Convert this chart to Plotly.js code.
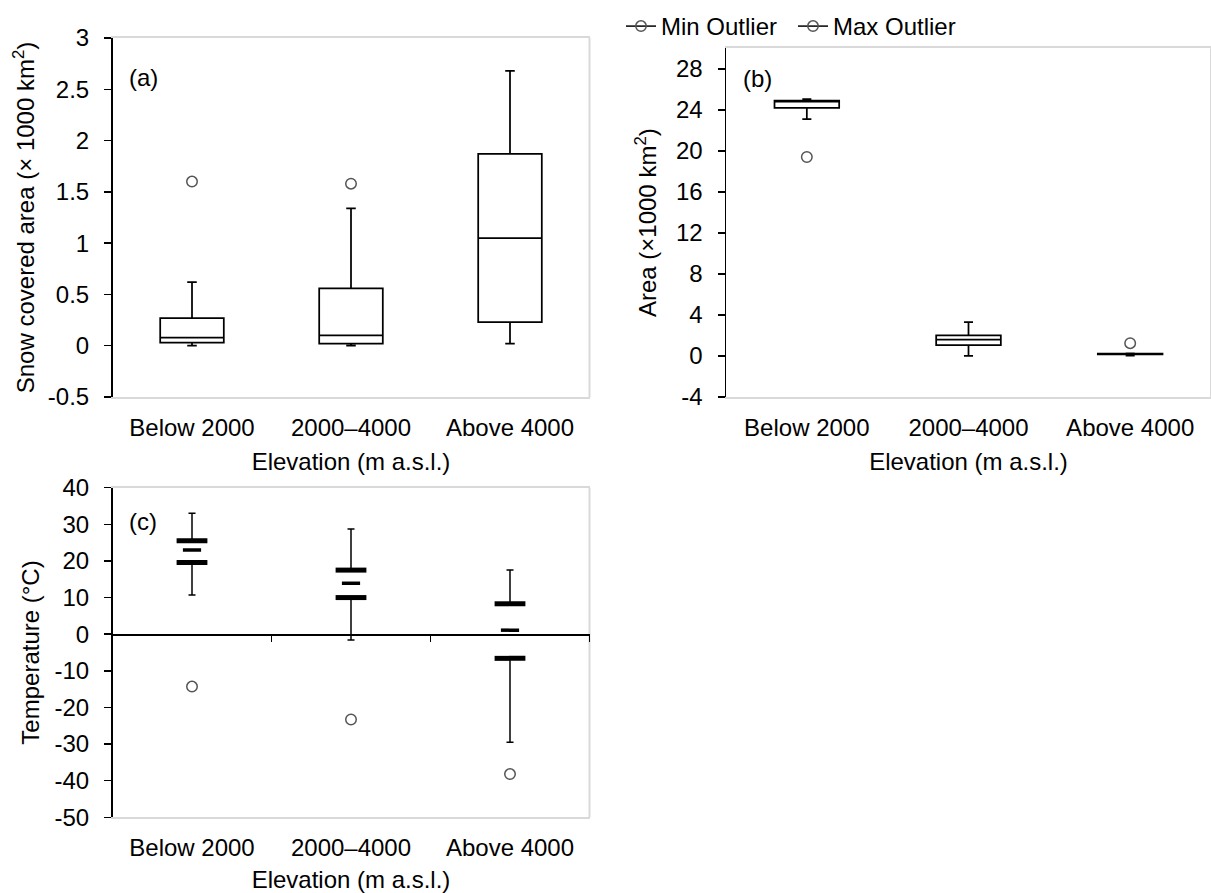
<!DOCTYPE html>
<html>
<head>
<meta charset="utf-8">
<script src="https://cdn.plot.ly/plotly-3.0.1.min.js"></script>
<style>html,body{margin:0;padding:0;background:#fff}#chart{width:1211px;height:893px}</style>
</head>
<body>
<div id="chart"></div>
<script>
// ---------- data ----------
const categories = ['Below 2000', '2000–4000', 'Above 4000'];

// (a) Snow covered area (× 1000 km²)
const snowMin        = [0.00, 0.00, 0.02];
const snowQ1         = [0.03, 0.02, 0.23];
const snowMedian     = [0.08, 0.10, 1.05];
const snowQ3         = [0.27, 0.56, 1.87];
const snowMax        = [0.62, 1.34, 2.68];
const snowMaxOutlier = [1.60, 1.58, null];

// (b) Area (× 1000 km²)
const areaMin        = [23.1, 0.0, 0.03];
const areaQ1         = [24.2, 1.05, 0.15];
const areaMedian     = [24.8, 1.6, 0.2];
const areaQ3         = [24.9, 2.0, 0.23];
const areaMax        = [25.05, 3.3, 0.25];
const areaMinOutlier = [19.4, null, null];
const areaMaxOutlier = [null, null, 1.25];

// (c) Temperature (°C)
const tempMin        = [10.7, -1.6, -29.5];
const tempQ1         = [19.6, 10.0, -6.6];
const tempMedian     = [23.0, 13.9, 1.1];
const tempQ3         = [25.5, 17.5, 8.3];
const tempMax        = [33.0, 28.7, 17.5];
const tempMinOutlier = [-14.3, -23.3, -38.2];

// tick labels
const ticksA = [-0.5, 0, 0.5, 1, 1.5, 2, 2.5, 3];
const ticksB = [-4, 0, 4, 8, 12, 16, 20, 24, 28];
const ticksC = [-50, -40, -30, -20, -10, 0, 10, 20, 30, 40];

const xTitle = 'Elevation (m a.s.l.)';
const yTitleA = 'Snow covered area (× 1000 km<sup>2</sup>)';
const yTitleB = 'Area (×1000 km<sup>2</sup>)';
const yTitleC = 'Temperature (°C)';

// ---------- layout helpers ----------
const W = 1211, H = 893;
const FAM = 'Arial, "Liberation Sans", sans-serif';
const FONT = {family: FAM, size: 24, color: '#000'};
const GRAY = '#d9d9d9';

const domA = {x: [112.5 / W, 589.5 / W], y: [1 - 397 / H, 1 - 38 / H]};
const domB = {x: [726 / W, 1.0],         y: [1 - 397 / H, 1 - 48.3 / H]};
const domC = {x: [112.5 / W, 589.5 / W], y: [1 - 817.3 / H, 1 - 487.7 / H]};
const rangeA = [-0.5, 3], rangeB = [-4, 30], rangeC = [-50, 40];

// isolate points so that "lines+markers" draws only markers (line shows in legend)
function isolated(cats, vals) {
  const x = [], y = [];
  vals.forEach((v, i) => { if (v !== null) { x.push(cats[i], cats[i]); y.push(v, null); } });
  return {x, y};
}
const outlierMarker = {symbol: 'circle-open', size: 10.5, color: '#555', line: {width: 1.5, color: '#555'}};

function boxTrace(q1, med, q3, lo, hi, xa, ya, ww) {
  return {
    type: 'box', x: categories, q1: q1, median: med, q3: q3,
    lowerfence: lo, upperfence: hi, width: 0.4, whiskerwidth: ww,
    line: {color: '#000', width: 1.75}, fillcolor: 'rgba(255,255,255,0)',
    boxpoints: false, showlegend: false, xaxis: xa, yaxis: ya, hoverinfo: 'y'
  };
}
function outlierTrace(vals, name, xa, ya, legend, rank) {
  const p = isolated(categories, vals);
  return {
    type: 'scatter', mode: legend ? 'lines+markers' : 'markers', name: name,
    x: p.x, y: p.y, connectgaps: false, xaxis: xa, yaxis: ya,
    line: {color: '#000', width: 1.5}, marker: outlierMarker,
    showlegend: legend, legendgroup: name, legendrank: rank, hoverinfo: 'y'
  };
}

const sub = (a, b) => a.map((v, i) => v - b[i]);
const zeros = categories.map(() => 0);

const traces = [
  // (a)
  boxTrace(snowQ1, snowMedian, snowQ3, snowMin, snowMax, 'x', 'y', 0.15),
  outlierTrace(snowMaxOutlier, 'Max Outlier', 'x', 'y', true, 2),
  // (b)
  boxTrace(areaQ1, areaMedian, areaQ3, areaMin, areaMax, 'x2', 'y2', 0.14),
  outlierTrace(areaMinOutlier, 'Min Outlier', 'x2', 'y2', false, 1),
  outlierTrace(areaMaxOutlier, 'Max Outlier', 'x2', 'y2', false, 2),
  // (c) upper whisker + Q3 bar
  {
    type: 'scatter', mode: 'markers', x: categories, y: tempQ3, xaxis: 'x3', yaxis: 'y3',
    marker: {symbol: 'line-ew', size: 22, color: '#000', line: {width: 5, color: '#000'}},
    error_y: {type: 'data', symmetric: false, array: sub(tempMax, tempQ3), arrayminus: zeros,
              color: '#000', thickness: 1.5, width: 3.5},
    showlegend: false, hoverinfo: 'y'
  },
  // (c) lower whisker + Q1 bar
  {
    type: 'scatter', mode: 'markers', x: categories, y: tempQ1, xaxis: 'x3', yaxis: 'y3',
    marker: {symbol: 'line-ew', size: 22, color: '#000', line: {width: 5, color: '#000'}},
    error_y: {type: 'data', symmetric: false, array: zeros, arrayminus: sub(tempQ1, tempMin),
              color: '#000', thickness: 1.5, width: 3.5},
    showlegend: false, hoverinfo: 'y'
  },
  // (c) median (on the zero-crossing overlay category axis, same positions)
  {
    type: 'scatter', mode: 'markers', x: categories, y: tempMedian, xaxis: 'x4', yaxis: 'y3',
    marker: {symbol: 'line-ew', size: 13, color: '#000', line: {width: 3.5, color: '#000'}},
    showlegend: false, hoverinfo: 'y'
  },
  outlierTrace(tempMinOutlier, 'Min Outlier', 'x3', 'y3', true, 1)
];

function catAxis(dom, anchor) {
  return {
    domain: dom, anchor: anchor, type: 'category', categoryorder: 'array', categoryarray: categories,
    range: [-0.5, 2.5], showline: true, linecolor: GRAY, linewidth: 2, mirror: true,
    ticks: '', showgrid: false, zeroline: false, tickfont: FONT, ticklabelstandoff: 8,
    automargin: false, fixedrange: true,
    title: {text: xTitle, font: FONT, standoff: 13}
  };
}
function valAxis(dom, anchor, range, ticks, title, standoff) {
  return {
    domain: dom, anchor: anchor, range: range, tickvals: ticks, ticktext: ticks.map(String),
    showline: true, linecolor: '#000', linewidth: 1.5, ticks: 'outside', ticklen: 7,
    tickwidth: 1.5, tickcolor: '#000', showgrid: false, zeroline: false, tickfont: FONT,
    ticklabelstandoff: 10, automargin: false, fixedrange: true,
    title: {text: title, font: FONT, standoff: standoff}
  };
}

function rightBorder(xr, yr) {
  return {type: 'line', xref: xr + ' domain', yref: yr + ' domain', x0: 1, x1: 1, y0: 0, y1: 1,
          line: {color: GRAY, width: 2}, layer: 'below'};
}

const zeroPos = domC.y[0] + (0 - rangeC[0]) / (rangeC[1] - rangeC[0]) * (domC.y[1] - domC.y[0]);

const layout = {
  width: W, height: H, autosize: false,
  margin: {l: 0, r: 0, t: 0, b: 0, pad: 0},
  paper_bgcolor: '#fff', plot_bgcolor: '#fff',
  font: FONT,
  showlegend: true,
  legend: {orientation: 'h', x: 621 / W, xanchor: 'left', y: 1 - 26.5 / H, yanchor: 'middle',
           font: FONT, bgcolor: 'rgba(0,0,0,0)', itemwidth: 30, traceorder: 'normal',
           entrywidth: 127},
  xaxis:  catAxis(domA.x, 'y'),
  yaxis:  valAxis(domA.y, 'x', rangeA, ticksA, yTitleA, 6),
  xaxis2: catAxis(domB.x, 'y2'),
  yaxis2: valAxis(domB.y, 'x2', rangeB, ticksB, yTitleB, 12),
  xaxis3: catAxis(domC.x, 'y3'),
  yaxis3: valAxis(domC.y, 'x3', rangeC, ticksC, yTitleC, 8),
  // zero-crossing category axis of panel (c) with ticks at category boundaries
  xaxis4: {
    overlaying: 'x3', anchor: 'free', position: zeroPos, domain: domC.x,
    type: 'category', categoryorder: 'array', categoryarray: categories, range: [-0.5, 2.5],
    showline: true, linecolor: '#000', linewidth: 1.5, tickson: 'boundaries',
    ticks: 'outside', ticklen: 6, tickwidth: 1.5, tickcolor: '#000',
    showticklabels: false, showgrid: false, zeroline: false, automargin: false, fixedrange: true
  },
  shapes: [rightBorder('x', 'y'), rightBorder('x2', 'y2'), rightBorder('x3', 'y3')],
  annotations: [
    {text: '(a)', xref: 'paper', yref: 'paper', x: 143 / W, y: 1 - 77 / H, showarrow: false, font: FONT, xanchor: 'center', yanchor: 'middle'},
    {text: '(b)', xref: 'paper', yref: 'paper', x: 757 / W, y: 1 - 78 / H, showarrow: false, font: FONT, xanchor: 'center', yanchor: 'middle'},
    {text: '(c)', xref: 'paper', yref: 'paper', x: 142.5 / W, y: 1 - 521 / H, showarrow: false, font: FONT, xanchor: 'center', yanchor: 'middle'}
  ]
};

Plotly.newPlot('chart', traces, layout, {displayModeBar: false, staticPlot: true});
</script>
</body>
</html>
